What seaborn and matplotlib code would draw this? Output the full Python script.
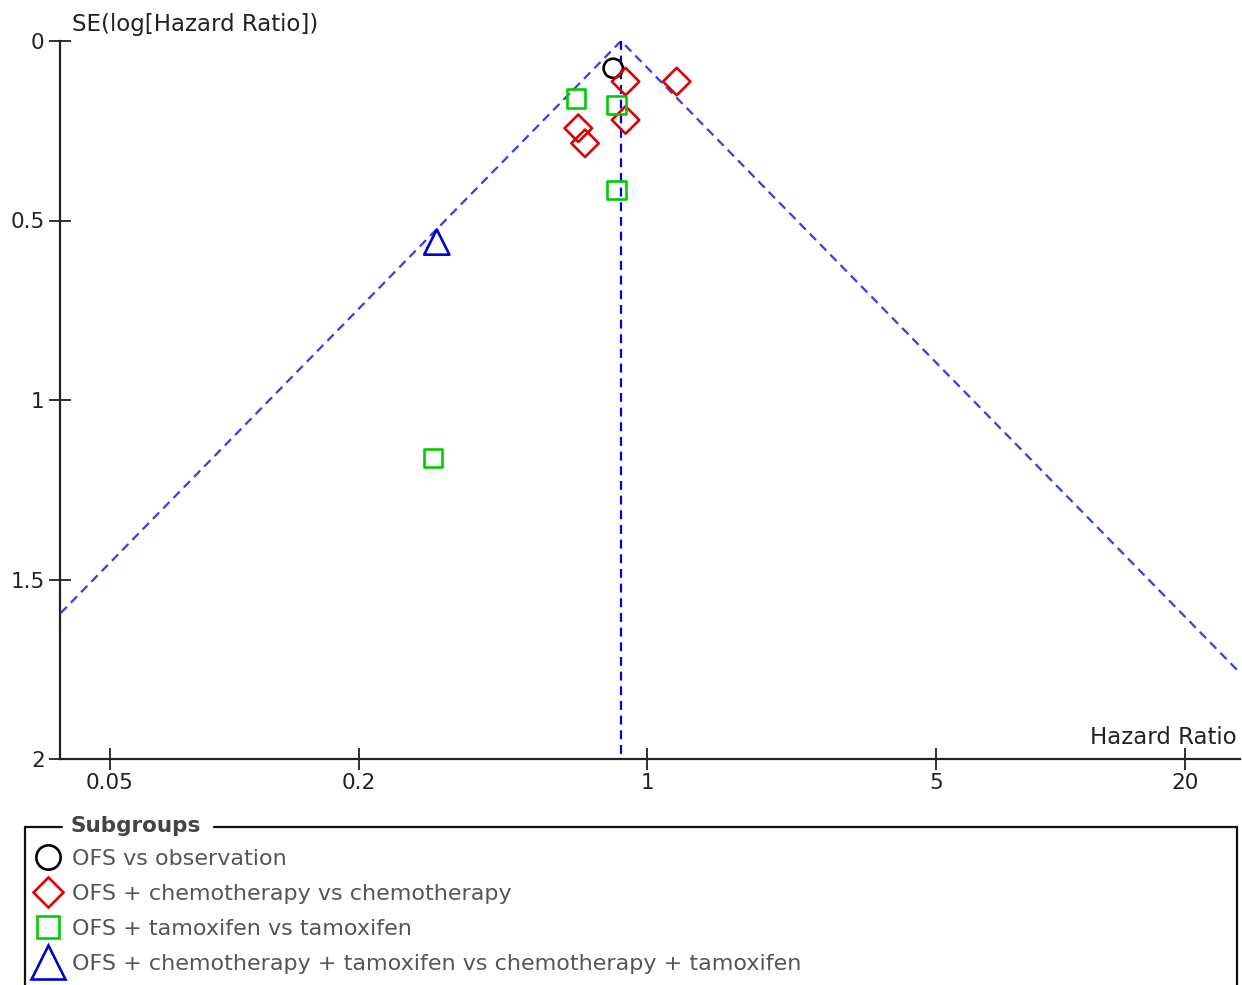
import numpy as np
import pandas as pd
import matplotlib
matplotlib.use("Agg")
import matplotlib.pyplot as plt
from matplotlib.lines import Line2D
import seaborn as sns

# ---------------- data ----------------
groups = ["OFS vs observation",
          "OFS + chemotherapy vs chemotherapy",
          "OFS + tamoxifen vs tamoxifen",
          "OFS + chemotherapy + tamoxifen vs chemotherapy + tamoxifen"]
circle_hr = [0.826]
circle_se = [0.076]
diamond_hr = [0.885, 1.177, 0.885, 0.680, 0.706]
diamond_se = [0.113, 0.113, 0.220, 0.243, 0.285]
square_hr = [0.671, 0.842, 0.842, 0.303]
square_se = [0.160, 0.178, 0.415, 1.161]
triangle_hr = [0.309]
triangle_se = [0.560]
pooled_hr = 0.863
x_ticks = [0.05, 0.2, 1, 5, 20]
x_ticklabels = ["0.05", "0.2", "1", "5", "20"]
y_ticks = [0, 0.5, 1, 1.5, 2]
y_ticklabels = ["0", "0.5", "1", "1.5", "2"]

# --------------- style ----------------
sns.set_theme(style="white")
plt.rcParams["font.family"] = ["DejaVu Sans"]

colors = ["#000000", "#dd0000", "#00cc00", "#0000cc"]
markers = ["o", "D", "s", "^"]
sizes = [190, 195, 175, 330]

W, H = 1242, 985
fig = plt.figure(figsize=(W / 100, H / 100), dpi=100)
ax = fig.add_axes([60 / W, (H - 759) / H, (1240 - 60) / W, (759 - 41) / H])

frames = []
for g, hrs, ses in zip(groups, [circle_hr, diamond_hr, square_hr, triangle_hr],
                       [circle_se, diamond_se, square_se, triangle_se]):
    frames.append(pd.DataFrame({"hr": hrs, "se": ses, "group": g}))
df = pd.concat(frames, ignore_index=True)

# funnel lines (95% pseudo-confidence limits)
se_max = 2.0
z = 1.96
funnel = pd.DataFrame({
    "hr": [pooled_hr * np.exp(-z * se_max), pooled_hr, pooled_hr * np.exp(z * se_max)],
    "se": [se_max, 0.0, se_max]})
ax.plot(funnel["hr"], funnel["se"], color="#3a3aee", lw=1.6, ls=(0, (4, 2.6)), zorder=1)
ax.plot([pooled_hr, pooled_hr], [0, se_max], color="#0000dd", lw=1.6, ls=(0, (4, 2.6)), zorder=1)

for g, c, m, s in zip(groups, colors, markers, sizes):
    sub = df[df["group"] == g]
    sns.scatterplot(data=sub, x="hr", y="se", ax=ax, marker=m, s=s,
                    facecolor="none", edgecolor=c, linewidth=1.9, zorder=3)

ax.set_xscale("log")
ax.set_xlim(0.03784, 27.18)
ax.set_ylim(2, 0)
ax.set_xticks(x_ticks)
ax.set_xticklabels(x_ticklabels)
ax.xaxis.set_minor_locator(matplotlib.ticker.NullLocator())
ax.set_yticks(y_ticks)
ax.set_yticklabels(y_ticklabels)
ax.set_xlabel("")
ax.set_ylabel("")
for sp in ["top", "right"]:
    ax.spines[sp].set_visible(False)
for sp in ["left", "bottom"]:
    ax.spines[sp].set_color("#222222")
    ax.spines[sp].set_linewidth(1.6)
ax.tick_params(axis="both", which="major", direction="inout", length=16, width=1.3,
               color="#222222", labelsize=15.5, labelcolor="#222222",
               bottom=True, left=True)
ax.tick_params(axis="x", pad=2)
ax.tick_params(axis="y", pad=3)

fig.text(72 / W, 1 - 25 / H, "SE(log[Hazard Ratio])", fontsize=16.5, color="#222222",
         ha="left", va="center")
fig.text(1237 / W, 1 - 738 / H, "Hazard Ratio", fontsize=16.5, color="#222222",
         ha="right", va="center")

# legend box
box_c = "#111111"
fig.add_artist(Line2D([25 / W, 62 / W], [1 - 827 / H] * 2, color=box_c, lw=1.6))
fig.add_artist(Line2D([214 / W, 1237 / W], [1 - 827 / H] * 2, color=box_c, lw=1.6))
fig.add_artist(Line2D([25 / W, 25 / W], [1 - 827 / H, 0], color=box_c, lw=1.6))
fig.add_artist(Line2D([1237 / W, 1237 / W], [1 - 827 / H, 0], color=box_c, lw=1.6))
fig.text(70 / W, 1 - 826 / H, "Subgroups", fontsize=15.5, fontweight="bold",
         color="#444444", ha="left", va="center")

leg_sizes = [17.5, 15.5, 16, 24.5]
handles = [Line2D([], [], marker=m, ls="none", markersize=ms, markerfacecolor="none",
                  markeredgecolor=c, markeredgewidth=1.9)
           for m, c, ms in zip(markers, colors, leg_sizes)]
fig.legend(handles, groups, loc="upper left", bbox_to_anchor=(37 / W, 1 - 849 / H),
           frameon=False, fontsize=16, labelcolor="#555555", handlelength=1.0,
           handletextpad=0.59, labelspacing=0.67, borderpad=0, borderaxespad=0)

fig.savefig("out.png", dpi=100)
